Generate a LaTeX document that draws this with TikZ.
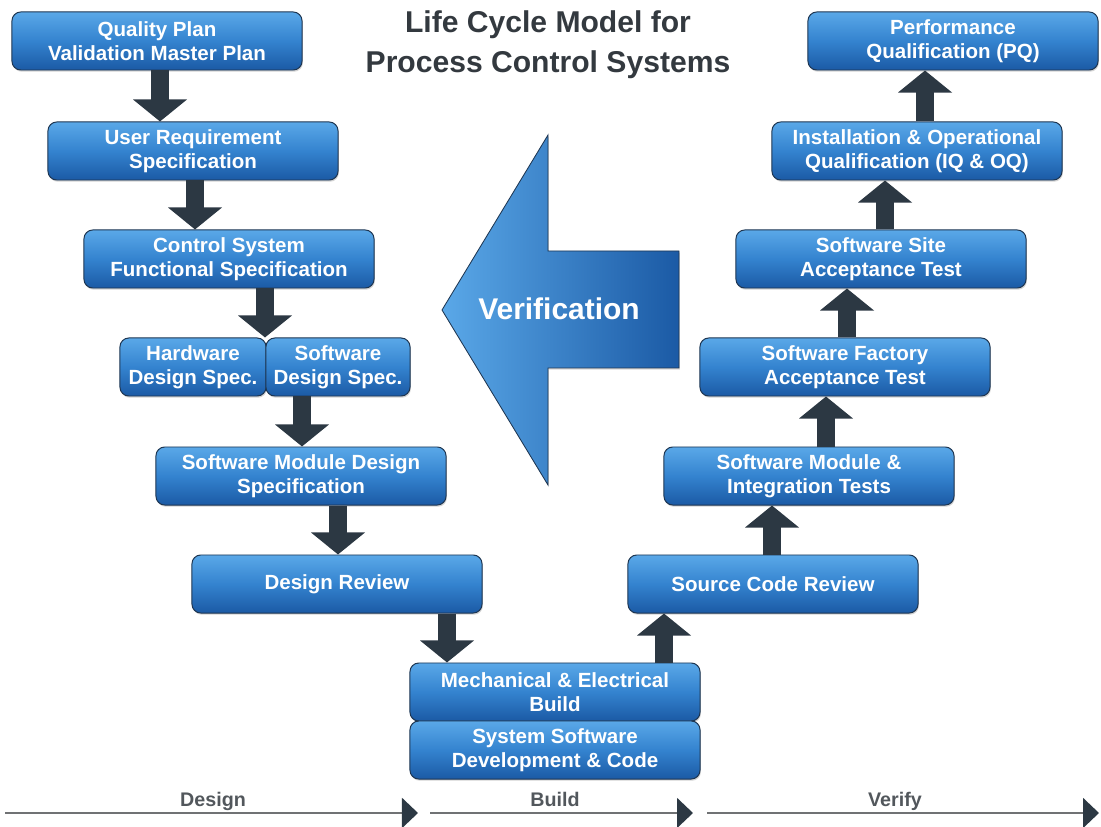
\documentclass[tikz,border=0pt]{standalone}
\usepackage{fontspec}
\setmainfont{Liberation Sans}
\usepackage{tikz}
\usetikzlibrary{shapes,positioning,calc}
\usetikzlibrary{arrows.meta,shadows}
\definecolor{boxtop}{HTML}{5AA8E8}
\definecolor{boxmid}{HTML}{3483CF}
\definecolor{boxbot}{HTML}{1B5AA5}
\definecolor{boxline}{HTML}{1E3652}
\definecolor{arrowdark}{HTML}{2C3843}
\definecolor{titlegray}{HTML}{33393F}
\definecolor{axisgray}{HTML}{707274}
\tikzstyle{phase} = [rectangle, rounded corners=0.22cm, minimum width=7.25cm, minimum height=1.45cm, inner sep=0pt,
text centered, align=center, draw=boxline, line width=0.7pt, top color=boxtop, bottom color=boxbot, middle color=boxmid,
text=white, font=\bfseries\fontsize{14.6}{17.1}\selectfont, drop shadow={shadow xshift=0.6pt, shadow yshift=-1.2pt, opacity=0.35}]
\tikzstyle{halfphase} = [phase, minimum width=3.62cm]
\tikzstyle{flow} = [line width=0.44cm, draw=arrowdark, -{Triangle[width=1.32cm, length=0.55cm]}]
\tikzstyle{axis} = [line width=1.4pt, draw=axisgray, -{Triangle[width=0.75cm, length=0.4cm, color=arrowdark]}]
\tikzstyle{axislabel} = [anchor=base, text=titlegray!85, font=\bfseries\fontsize{14}{16}\selectfont]

\begin{document}
\begin{tikzpicture}[x=0.025cm, y=-0.025cm]
				\useasboundingbox (0,0) rectangle (1101,827);
				\node (title) at (548,45) [align=center, text=titlegray, font=\bfseries\fontsize{21.4}{28.5}\selectfont] {Life Cycle Model for\\Process Control Systems};
				\node (qp) at (157,41) [phase] {Quality Plan\\Validation Master Plan};
				\node (urs) at (193,151) [phase] {User Requirement\\Specification};
				\node (csfs) at (229,259) [phase] {Control System\\Functional Specification};
				\node (hds) at (193,367) [halfphase, minimum width=3.65cm] {Hardware\\Design Spec.};
				\node (sds) at (338,367) [halfphase, minimum width=3.6cm] {Software\\Design Spec.};
				\node (smds) at (301,476) [phase] {Software Module Design\\Specification};
				\node (dr) at (337,584) [phase] {Design Review};
				\node (meb) at (555,692) [phase] {Mechanical \& Electrical\\Build};
				\node (ssdc) at (555,750) [phase] {System Software\\Development \& Code};
				\node (scr) at (773,584) [phase] {Source Code Review};
				\node (smit) at (809,476) [phase] {Software Module \&\\Integration Tests};
				\node (sfat) at (845,367) [phase] {Software Factory\\Acceptance Test};
				\node (ssat) at (881,259) [phase] {Software Site\\Acceptance Test};
				\node (iqoq) at (917,151) [phase] {Installation \& Operational\\Qualification (IQ \& OQ)};
				\node (pq) at (953,41) [phase] {Performance\\Qualification (PQ)};
				\draw[flow] (160,0 |- qp.south) -- (160,0 |- urs.north);
				\draw[flow] (195,0 |- urs.south) -- (195,0 |- csfs.north);
				\draw[flow] (265,0 |- csfs.south) -- (265,0 |- sds.north);
				\draw[flow] (302,0 |- sds.south) -- (302,0 |- smds.north);
				\draw[flow] (338,0 |- smds.south) -- (338,0 |- dr.north);
				\draw[flow] (447,0 |- dr.south) -- (447,0 |- meb.north);
				\draw[flow] (664,0 |- meb.north) -- (664,0 |- scr.south);
				\draw[flow] (772,0 |- scr.north) -- (772,0 |- smit.south);
				\draw[flow] (826,0 |- smit.north) -- (826,0 |- sfat.south);
				\draw[flow] (847,0 |- sfat.north) -- (847,0 |- ssat.south);
				\draw[flow] (885,0 |- ssat.north) -- (885,0 |- iqoq.south);
				\draw[flow] (925,0 |- iqoq.north) -- (925,0 |- pq.south);
				\draw[draw=boxline, line width=0.6pt, left color=boxtop, right color=boxbot, drop shadow={shadow xshift=0.6pt, shadow yshift=-1.2pt, opacity=0.3}]
					(442,310) -- (548,135) -- (548,251) -- (679,251) -- (679,368) -- (548,368) -- (548,485) -- cycle;
				\node (verif) at (559,309) [text=white, font=\bfseries\fontsize{21.3}{24}\selectfont] {Verification};
				\coordinate (d0) at (5,813);
				\coordinate (d1) at (418,813);
				\coordinate (b0) at (430,813);
				\coordinate (b1) at (693,813);
				\coordinate (v0) at (707,813);
				\coordinate (v1) at (1099,813);
				\draw[axis] (d0) -- (d1);
				\draw[axis] (b0) -- (b1);
				\draw[axis] (v0) -- (v1);
				\node (design) at (213,806) [axislabel] {Design};
				\node (build) at (555,806) [axislabel] {Build};
				\node (verify) at (895,806) [axislabel] {Verify};
\end{tikzpicture}
\end{document}
